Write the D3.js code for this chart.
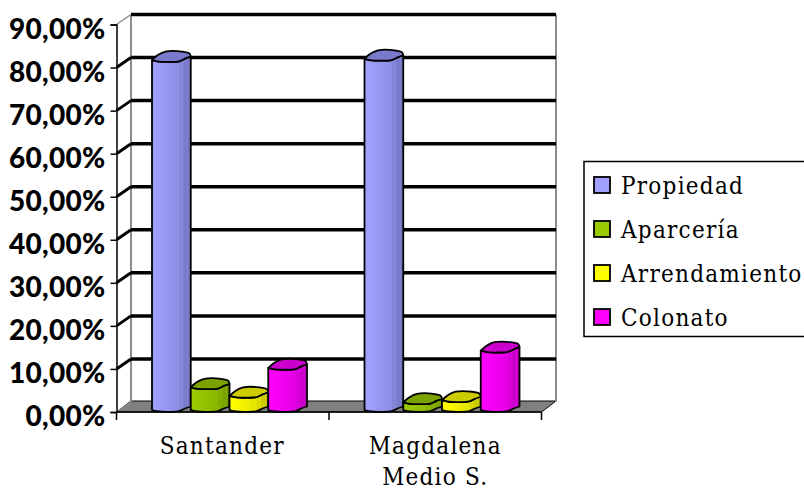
<!DOCTYPE html>
<html>
<head>
<meta charset="utf-8">
<script src="https://d3js.org/d3.v7.min.js"></script>
<style>
  html, body { margin: 0; padding: 0; background: #fff; overflow: hidden; }
  svg { display: block; }
  .ytick text { font-family: Lato, sans-serif; font-weight: 900; font-size: 28px; fill: #000; letter-spacing: 0.3px; }
  .serif { font-family: "DejaVu Serif Condensed", "DejaVu Serif", serif; font-size: 24px; fill: #000; letter-spacing: 1.25px; }
</style>
</head>
<body>
<div id="chart"></div>
<script>
var categories = ["Santander", "Magdalena Medio S."];
var seriesNames = ["Propiedad", "Aparcería", "Arrendamiento", "Colonato"];
var propiedad = [81.5, 81.8];
var aparceria = [5.5, 2];
var arrendamiento = [3.5, 2.5];
var colonato = [10, 14];
var seriesValues = [propiedad, aparceria, arrendamiento, colonato];
var yTicks = [0, 10, 20, 30, 40, 50, 60, 70, 80, 90];

var lightColors = ["#a0a0ff", "#99cc00", "#ffff00", "#ff00ff"];
var darkColors = ["#7676c4", "#769d00", "#c4c400", "#c400c4"];
var topColors = ["#7a7acc", "#7aa300", "#cccc00", "#cc00cc"];

var width = 804;
var height = 491;
var depth_x = 14.5;
var depth_y = 10;

var svg = d3.select("#chart").append("svg").attr("width", width).attr("height", height);

var x_scale = d3.scaleBand().domain(categories).range([116.5, 541.5]);
var y_scale = d3.scaleLinear().domain([0, 90]).range([412, 24.5]);
var inner_scale = d3.scaleBand().domain(d3.range(4)).range([35.5, 35.5 + 155]);

// gradients for the bar bodies, faceted on the right side
var defs = svg.append("defs");
lightColors.forEach(function(c, i) {
  var mix = d3.interpolateRgb(c, darkColors[i]);
  var g = defs.append("linearGradient").attr("id", "body" + i);
  [[0, 0], [0.2, 0.08], [0.4, 0.25], [0.66, 0.45], [0.68, 0.25], [0.7, 0.6], [0.78, 0.7], [0.8, 0.5], [0.82, 0.85], [0.9, 0.9], [0.92, 0.7], [0.94, 1], [1, 1]].forEach(function(st) {
    g.append("stop").attr("offset", st[0]).attr("stop-color", mix(st[1]));
  });
});

// floor
var floor_pts = [
  [x_scale.range()[0], y_scale(0)],
  [x_scale.range()[1], y_scale(0)],
  [x_scale.range()[1] + depth_x, y_scale(0) - depth_y - 1],
  [x_scale.range()[0] + depth_x, y_scale(0) - depth_y - 1]
];
svg.append("polygon").attr("points", floor_pts.join(" ")).attr("fill", "#808080").attr("stroke", "#000").attr("stroke-width", 1);

// walls
var x_back = x_scale.range()[0] + depth_x;
var x_right = x_scale.range()[1] + depth_x;
svg.append("line").attr("x1", x_back).attr("x2", x_back).attr("y1", y_scale(90) - depth_y).attr("y2", y_scale(0) - depth_y)
  .attr("stroke", "#8c8c8c").attr("stroke-width", 2);
svg.append("line").attr("x1", x_right).attr("x2", x_right).attr("y1", y_scale(90) - depth_y).attr("y2", y_scale(0) - depth_y)
  .attr("stroke", "#8c8c8c").attr("stroke-width", 2);

// gridlines on the back wall and left wall
yTicks.forEach(function(t) {
  if (t > 0) {
    svg.append("line").attr("x1", x_back).attr("x2", x_right).attr("y1", y_scale(t) - depth_y).attr("y2", y_scale(t) - depth_y)
      .attr("stroke", "#000").attr("stroke-width", 3.5);
  }
  svg.append("line").attr("x1", x_scale.range()[0]).attr("x2", x_back).attr("y1", y_scale(t)).attr("y2", y_scale(t) - depth_y)
    .attr("stroke", t === 90 || t === 0 ? "#8c8c8c" : "#000").attr("stroke-width", t === 90 || t === 0 ? 1.5 : 3);
});

// y axis
var y_axis = d3.axisLeft(y_scale).tickValues(yTicks).tickSize(6).tickPadding(5)
  .tickFormat(function(d) { return d.toFixed(2).replace(".", ",") + "%"; });
var y_group = svg.append("g").attr("class", "ytick").attr("transform", "translate(116.5,0)").call(y_axis);
y_group.select(".domain").attr("stroke", "#000").attr("stroke-width", 1.5);
y_group.selectAll(".tick line").attr("stroke", "#000").attr("stroke-width", 1.5);
y_group.selectAll("text").attr("dy", "0.32em").attr("y", 5);

// x axis line and ticks
var x_edges = [x_scale.range()[0], x_scale(categories[1]), x_scale.range()[1]];
svg.append("line").attr("x1", x_edges[0]).attr("x2", x_edges[2]).attr("y1", y_scale(0)).attr("y2", y_scale(0)).attr("stroke", "#000").attr("stroke-width", 1.5);
x_edges.forEach(function(e) {
  svg.append("line").attr("x1", e).attr("x2", e).attr("y1", y_scale(0)).attr("y2", y_scale(0) + 8).attr("stroke", "#000").attr("stroke-width", 1.5);
});

// category labels
svg.append("text").attr("class", "serif").attr("text-anchor", "middle")
  .attr("x", x_scale(categories[0]) + x_scale.bandwidth() / 2 - 0.5).attr("y", 454).text("Santander");
svg.append("text").attr("class", "serif").attr("text-anchor", "middle")
  .attr("x", x_scale(categories[1]) + x_scale.bandwidth() / 2).attr("y", 454).text("Magdalena");
svg.append("text").attr("class", "serif").attr("text-anchor", "middle")
  .attr("x", x_scale(categories[1]) + x_scale.bandwidth() / 2).attr("y", 485).text("Medio S.");

// bars: the footprint is a lumpy octagon, body swept up from it
var bar_w = inner_scale.bandwidth();
var front_shape = [[0, 0], [0.18, 1.5], [0.42, 1.8], [0.7, 1.2], [0.85, -1.5], [1, -3.5]];
var back_shape = [[0.97, -6.5], [0.78, -8.5], [0.35, -8.5], [0.15, -5]];
var outline = d3.line().curve(d3.curveCatmullRom.alpha(0.5));

categories.forEach(function(cat, c) {
  seriesValues.forEach(function(vals, s) {
    var x0 = x_scale(cat) + inner_scale(s);
    var y_top = y_scale(vals[c]) - 1;
    var y_base = y_scale(0) - 2;
    var g = svg.append("g");

    var top_front = front_shape.map(function(p) { return [x0 + p[0] * bar_w, y_top + p[1]]; });
    var base_front = front_shape.map(function(p) { return [x0 + p[0] * bar_w, y_base + p[1]]; });
    var top_back = back_shape.map(function(p) { return [x0 + p[0] * bar_w, y_top + p[1]]; });

    var body = outline(top_front) + "L" + outline(base_front.slice().reverse()).slice(1) + "Z";
    g.append("path").attr("d", body).attr("fill", "url(#body" + s + ")").attr("stroke", "#000").attr("stroke-width", 1.8).attr("stroke-linejoin", "round");

    var lid = outline(top_front) + "L" + outline([top_front[top_front.length - 1]].concat(top_back, [top_front[0]])).slice(1) + "Z";
    g.append("path").attr("d", lid).attr("fill", topColors[s]).attr("stroke", "#000").attr("stroke-width", 1.8).attr("stroke-linejoin", "round");
  });
});

// legend, the box runs off the right edge of the page
var legend_y = d3.scalePoint().domain(seriesNames).range([185, 317]);
svg.append("rect").attr("x", 584).attr("y", 161.5).attr("width", 260).attr("height", 175)
  .attr("fill", "#fff").attr("stroke", "#000").attr("stroke-width", 1.5);
seriesNames.forEach(function(name, i) {
  svg.append("rect").attr("x", 594).attr("y", legend_y(name) - 8).attr("width", 16).attr("height", 16)
    .attr("fill", lightColors[i]).attr("stroke", "#000").attr("stroke-width", 1.8);
  svg.append("text").attr("class", "serif").attr("x", 621).attr("y", legend_y(name) + 9).text(name);
});
</script>
</body>
</html>
